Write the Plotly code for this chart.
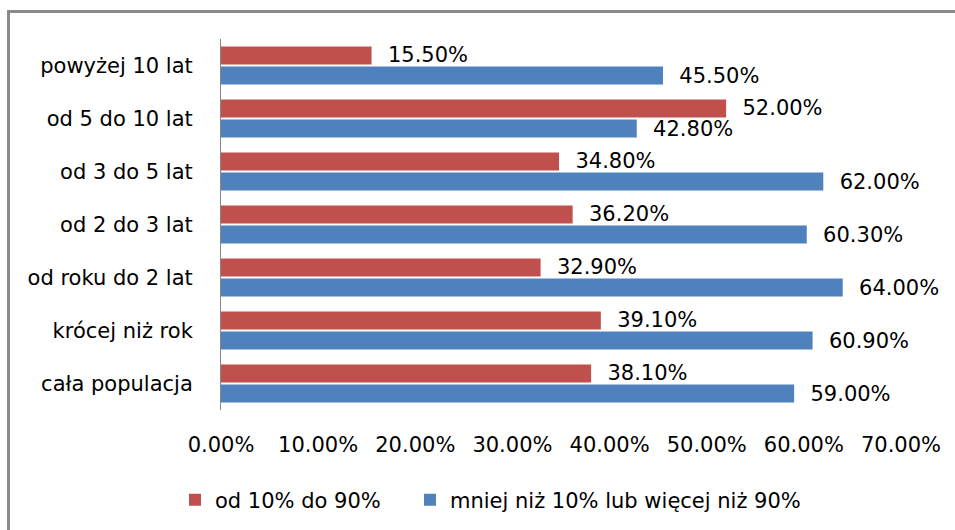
import plotly.graph_objects as go

# Categories from bottom to top of the horizontal bar chart
categories = [
    "cała populacja",
    "krócej niż rok",
    "od roku do 2 lat",
    "od 2 do 3 lat",
    "od 3 do 5 lat",
    "od 5 do 10 lat",
    "powyżej 10 lat",
]
mid_share = [38.1, 39.1, 32.9, 36.2, 34.8, 52.0, 15.5]          # od 10% do 90%
extreme_share = [59.0, 60.9, 64.0, 60.3, 62.0, 42.8, 45.5]      # mniej niż 10% lub więcej niż 90%
x_ticks = [0, 10, 20, 30, 40, 50, 60, 70]

FONT = "DejaVu Sans"
FS = 21
RED = "#C0504D"
BLUE = "#4F81BD"

W, H = 955, 530
ML, MR, MT, MB = 221, 54, 39, 120
PW, PH = W - ML - MR, H - MT - MB


def px_x(px):
    return (px - ML) / PW


def px_y(py):
    return (H - MB - py) / PH


fig = go.Figure()

label_tpl = "\u00a0\u00a0%{x:.2f}%"

# Blue trace first so that it sits below the red one inside each group
fig.add_trace(go.Bar(
    y=categories, x=extreme_share, orientation="h",
    name="mniej niż 10% lub więcej niż 90%",
    legend="legend2",
    marker=dict(color=BLUE, line=dict(width=0)),
    texttemplate=label_tpl, textposition="outside",
    textfont=dict(family=FONT, size=FS, color="#000000"),
    constraintext="none", cliponaxis=False,
    hoverinfo="skip",
))
fig.add_trace(go.Bar(
    y=categories, x=mid_share, orientation="h",
    name="od 10% do 90%",
    legend="legend",
    marker=dict(color=RED, line=dict(width=0)),
    texttemplate=label_tpl, textposition="outside",
    textfont=dict(family=FONT, size=FS, color="#000000"),
    constraintext="none", cliponaxis=False,
    hoverinfo="skip",
))

legend_common = dict(
    orientation="h",
    xref="container", yref="container",
    xanchor="left", y=1 - 500 / H, yanchor="middle",
    font=dict(family=FONT, size=FS, color="#000000"),
    bgcolor="rgba(0,0,0,0)",
    itemclick=False, itemdoubleclick=False,
)

fig.update_layout(
    width=W, height=H,
    margin=dict(l=ML, r=MR, t=MT, b=MB, pad=0),
    paper_bgcolor="white", plot_bgcolor="white",
    barmode="group", bargap=0.245, bargroupgap=0.1,
    font=dict(family=FONT, size=FS, color="#000000"),
    showlegend=True,
    legend=dict(x=175 / W, **legend_common),
    legend2=dict(x=410 / W, **legend_common),
    xaxis=dict(
        range=[0, 70], tickvals=x_ticks,
        ticktext=[f"{v:.2f}%" for v in x_ticks],
        showgrid=False, zeroline=False, showline=False,
        ticks="", ticklabelstandoff=20,
        tickfont=dict(family=FONT, size=FS, color="#000000"),
        fixedrange=True,
    ),
    yaxis=dict(
        categoryorder="array", categoryarray=categories,
        showgrid=False, zeroline=False,
        showline=True, linecolor="#868686", linewidth=1,
        ticks="", ticklabelstandoff=23,
        tickfont=dict(family=FONT, size=FS, color="#000000"),
        fixedrange=True,
    ),
    shapes=[
        # chart frame (top and left edges)
        dict(type="line", xref="paper", yref="paper",
             x0=px_x(8.5), x1=px_x(W + 5), y0=px_y(11.5), y1=px_y(11.5),
             line=dict(color="#8A8A8A", width=3)),
        dict(type="line", xref="paper", yref="paper",
             x0=px_x(8.5), x1=px_x(8.5), y0=px_y(10), y1=px_y(H + 5),
             line=dict(color="#8A8A8A", width=3)),
    ],
)

fig.write_html("out.html", config={"displayModeBar": False})
